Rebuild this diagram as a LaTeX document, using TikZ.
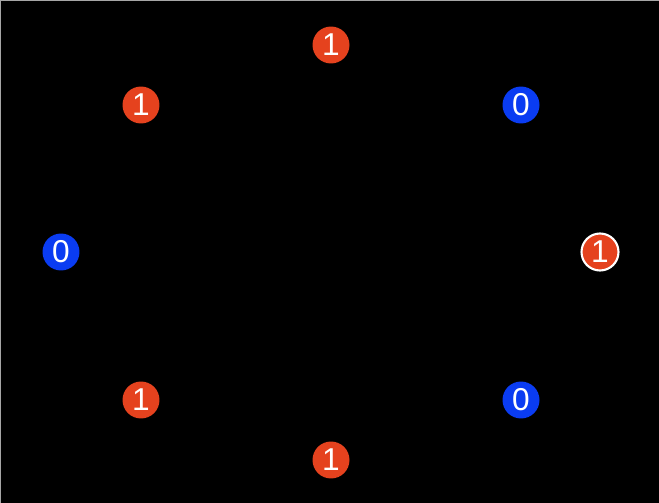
\documentclass[tikz,border=0pt]{standalone}
\usepackage{fontspec}
\setmainfont{Liberation Sans}
\definecolor{bitred}{HTML}{E5421E}
\definecolor{bitblue}{HTML}{0A3CF2}
\begin{document}
\begin{tikzpicture}[x=0.02cm, y=-0.02cm,
    bit/.style={circle, minimum size=0.74cm, inner sep=0pt, text=white, font=\fontsize{18}{18}\selectfont},
    one/.style={bit, fill=bitred},
    zero/.style={bit, fill=bitblue}]
    % 背景
    \fill[black] (0,0) rectangle (659,503);
    \useasboundingbox (0,0) rectangle (659,503);
    \draw[gray!70, line width=0.6pt] (0,503) -- (0,0.3) -- (659,0.3);

    % 环上的比特
    \node[one]  (top)    at (331,45)  {1};
    \node[one]  (upleft) at (141,105) {1};
    \node[zero] (upright) at (521,105) {0};
    \node[zero] (left)   at (61,252)  {0};
    \node[one, draw=white, line width=1.2pt] (right) at (600,252) {1};
    \node[one]  (lowleft) at (141,400) {1};
    \node[zero] (lowright) at (521,400) {0};
    \node[one]  (bottom) at (331,460) {1};
\end{tikzpicture}
\end{document}
